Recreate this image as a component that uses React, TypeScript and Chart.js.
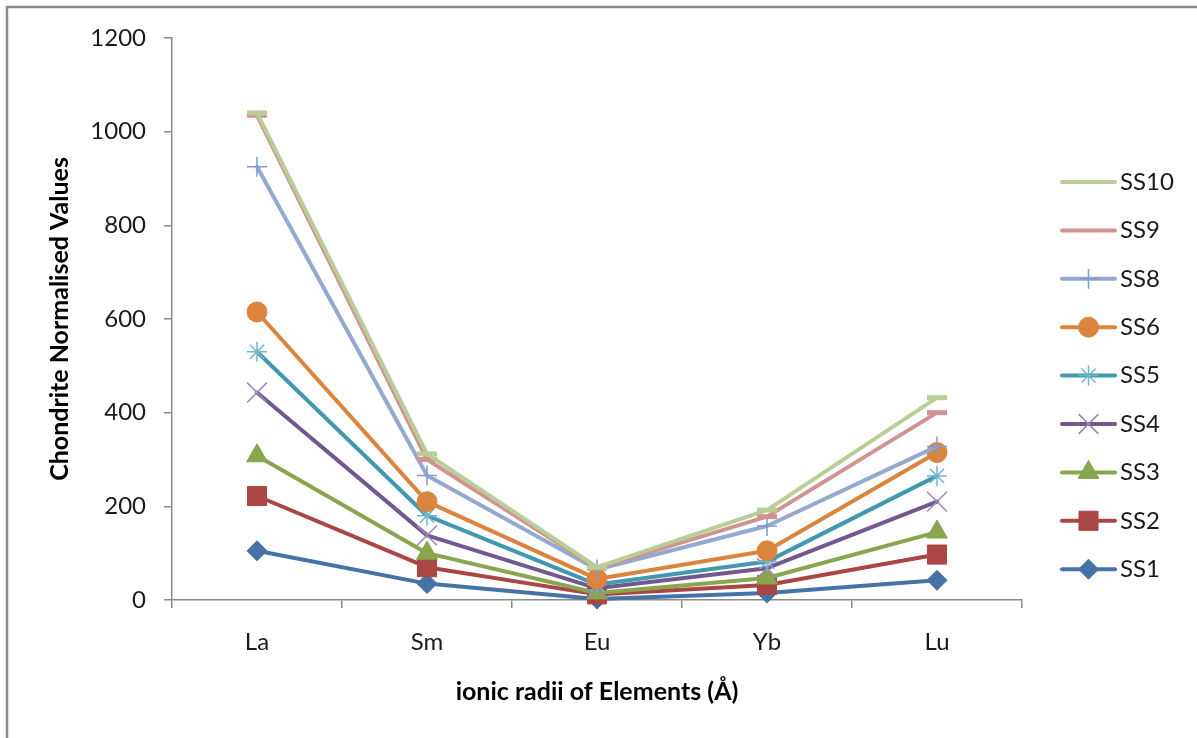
import React, { useEffect, useRef } from 'react';
import { Chart, registerables } from 'chart.js';
import { drawPoint } from 'chart.js/helpers';

Chart.register(...registerables);

// Rare earth elements on the category axis
const categories = ['La', 'Sm', 'Eu', 'Yb', 'Lu'];

// Chondrite-normalised values per sample
const SS1 = [105, 35, 2, 15, 42];
const SS2 = [222, 70, 12, 32, 97];
const SS3 = [308, 100, 15, 47, 145];
const SS4 = [443, 138, 25, 68, 210];
const SS5 = [530, 180, 33, 82, 265];
const SS6 = [615, 210, 45, 105, 315];
const SS8 = [925, 266, 65, 158, 328];
const SS9 = [1035, 300, 68, 178, 400];
const SS10 = [1040, 312, 70, 192, 432];

const yMin = 0;
const yMax = 1200;
const yStep = 200;

const FONT = 'Lato, "Open Sans", "DejaVu Sans", sans-serif';

// Series listed top-down as in the legend; first entry is drawn on top
const series = [
  { label: 'SS10', data: SS10, color: '#B9CD96', mark: 'line', markColor: '#B9CD96', r: 10, bw: 5 },
  { label: 'SS9', data: SS9, color: '#D19392', mark: 'line', markColor: '#D19392', r: 10, bw: 5 },
  { label: 'SS8', data: SS8, color: '#93A9CF', mark: 'cross', markColor: '#7F9BD0', r: 10, bw: 1.5 },
  { label: 'SS6', data: SS6, color: '#DB843D', mark: 'circle', markColor: '#DB843D', r: 10, bw: 1 },
  { label: 'SS5', data: SS5, color: '#4198AF', mark: 'star', markColor: '#6DB8CC', r: 10, bw: 1.5 },
  { label: 'SS4', data: SS4, color: '#71588F', mark: 'crossRot', markColor: '#9B88B8', r: 14, bw: 1.5 },
  { label: 'SS3', data: SS3, color: '#89A54E', mark: 'triangle', markColor: '#89A54E', r: 12, bw: 1 },
  { label: 'SS2', data: SS2, color: '#AA4643', mark: 'rect', markColor: '#AA4643', r: 13.5, bw: 1 },
  { label: 'SS1', data: SS1, color: '#4572A7', mark: 'rectRot', markColor: '#4572A7', r: 10, bw: 1 },
];

// Grey frame along the top and left edges of the chart object
const framePlugin = {
  id: 'frame',
  beforeDraw(chart: any) {
    const ctx = chart.ctx;
    ctx.save();
    ctx.fillStyle = '#ffffff';
    ctx.fillRect(0, 0, chart.width, chart.height);
    ctx.strokeStyle = '#8c8c8c';
    ctx.lineWidth = 2.5;
    ctx.beginPath();
    ctx.moveTo(7, chart.height);
    ctx.lineTo(7, 7);
    ctx.lineTo(chart.width, 7);
    ctx.stroke();
    ctx.restore();
  },
};

// Legend with line + marker samples on the right
const legendPlugin = {
  id: 'lineLegend',
  afterDraw(chart: any) {
    const ctx = chart.ctx;
    const x0 = 1062;
    const x1 = 1115;
    const top = 182;
    const gap = 48.4;
    ctx.save();
    chart.data.datasets.forEach((ds: any, i: number) => {
      const y = top + i * gap;
      ctx.strokeStyle = ds.borderColor;
      ctx.lineWidth = 4;
      ctx.lineCap = 'round';
      ctx.beginPath();
      ctx.moveTo(x0, y);
      ctx.lineTo(x1, y);
      ctx.stroke();
      ctx.lineCap = 'butt';
      if (ds.pointStyle !== 'line') {
        ctx.fillStyle = ds.pointBackgroundColor;
        ctx.strokeStyle = ds.pointBorderColor;
        ctx.lineWidth = ds.pointBorderWidth;
        drawPoint(
          ctx,
          {
            pointStyle: ds.pointStyle,
            radius: ds.pointRadius,
            borderWidth: ds.pointBorderWidth,
            rotation: 0,
          } as any,
          (x0 + x1) / 2,
          y
        );
      }
      ctx.fillStyle = '#1a1a1a';
      ctx.font = `24px ${FONT}`;
      ctx.textAlign = 'left';
      ctx.textBaseline = 'middle';
      ctx.fillText(ds.label, 1120, y);
    });
    ctx.restore();
  },
};

export default function App() {
  const ref = useRef<HTMLCanvasElement>(null);

  useEffect(() => {
    const canvas = ref.current!;
    const datasets = series.map((s) => ({
      label: s.label,
      data: s.data,
      borderColor: s.color,
      backgroundColor: s.color,
      borderWidth: 4,
      borderJoinStyle: 'round' as const,
      borderCapStyle: 'round' as const,
      tension: 0,
      fill: false,
      pointStyle: s.mark,
      pointRadius: s.r,
      pointHoverRadius: s.r,
      pointBorderWidth: s.bw,
      pointBackgroundColor: s.markColor,
      pointBorderColor: s.markColor,
    }));

    const chart = new Chart(canvas, {
      type: 'line',
      data: { labels: categories, datasets },
      options: {
        responsive: false,
        animation: false,
        devicePixelRatio: 1,
        clip: false as any,
        layout: { padding: { left: 0, top: 38, right: 175, bottom: 0 } },
        plugins: {
          legend: { display: false },
          tooltip: { enabled: false },
          title: { display: false },
        },
        scales: {
          x: {
            type: 'category',
            offset: true,
            afterFit(scale: any) {
              scale.height = 138;
            },
            grid: {
              display: true,
              offset: true,
              drawOnChartArea: false,
              drawTicks: true,
              tickLength: 8,
              color: '#8a8a8a',
              lineWidth: 1.5,
            },
            border: { display: true, color: '#8a8a8a', width: 1.5 },
            ticks: {
              color: '#1a1a1a',
              padding: 20,
              maxRotation: 0,
              font: { family: FONT, size: 24 },
            },
            title: {
              display: true,
              text: 'ionic radii of Elements (Å)',
              color: '#000000',
              font: { family: FONT, size: 25, weight: 'bold' },
              padding: { top: 0, bottom: 31 },
            },
          },
          y: {
            type: 'linear',
            min: yMin,
            max: yMax,
            afterFit(scale: any) {
              scale.width = 172;
            },
            grid: {
              display: true,
              drawOnChartArea: false,
              drawTicks: true,
              tickLength: 8,
              color: '#8a8a8a',
              lineWidth: 1.5,
            },
            border: { display: true, color: '#8a8a8a', width: 1.5 },
            ticks: {
              stepSize: yStep,
              color: '#1a1a1a',
              padding: 18,
              font: { family: FONT, size: 24 },
              callback: (v: any) => String(v),
            },
            title: {
              display: true,
              text: 'Chondrite Normalised Values',
              color: '#000000',
              font: { family: FONT, size: 25, weight: 'bold' },
              padding: { top: 45, bottom: 0 },
            },
          },
        },
      },
      plugins: [framePlugin, legendPlugin],
    });

    return () => chart.destroy();
  }, []);

  return (
    <div style={{ position: 'fixed', left: 0, top: 0, width: 1197, height: 738, background: '#fff' }}>
      <canvas ref={ref} width={1197} height={738} style={{ width: 1197, height: 738, display: 'block' }} />
    </div>
  );
}
